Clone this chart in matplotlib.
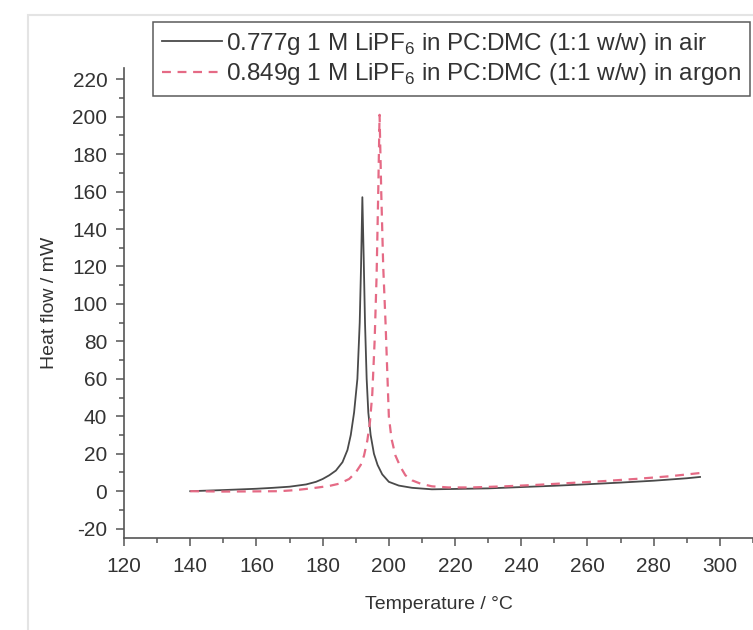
import matplotlib.pyplot as plt
from matplotlib.ticker import MultipleLocator
from matplotlib.patches import Rectangle

# DSC-Kurven (Temperatur in °C, Wärmestrom in mW)
t_air = [140, 150, 160, 165, 170, 175, 178, 180, 182, 184, 186, 187.5, 188.5,
         189.5, 190.5, 191.2, 191.6, 192.0, 192.4, 192.8, 193.3, 193.8, 194.5,
         195.5, 196.6, 198, 200, 203, 207, 213, 220, 230, 240, 250, 260, 270,
         280, 290, 294]
q_air = [0.0, 0.6, 1.3, 1.8, 2.4, 3.6, 5.0, 6.5, 8.5, 11, 15.5, 22, 30,
         42, 60, 90, 120, 157, 125, 90, 60, 42, 30,
         20, 14, 9, 5, 3.0, 1.8, 1.0, 1.2, 1.5, 2.2, 2.9, 3.7, 4.6,
         5.6, 6.9, 7.6]

t_ar = [140, 150, 160, 167, 172, 177, 182, 185, 188, 190, 191.5, 192.5, 193.5,
        194.3, 195, 195.7, 196.3, 196.8, 197.2, 197.7, 198.3, 199, 199.6, 200,
        200.8, 202, 203.5, 205, 207, 209.6, 213, 218, 225, 235, 245, 255, 265,
        275, 285, 294]
q_ar = [0, -0.2, -0.1, 0, 0.6, 1.6, 2.8, 4, 6.5, 10, 14, 19, 27,
        37, 52, 80, 115, 160, 201, 160, 120, 90, 60, 40,
        28, 19, 13, 8.5, 5.8, 4.0, 2.6, 2.0, 2.0, 2.6, 3.4, 4.4, 5.4,
        6.6, 8.0, 9.7]

lbl_air = r"0.777g 1 M LiPF$_6$ in PC:DMC (1:1 w/w) in air"
lbl_ar = r"0.849g 1 M LiPF$_6$ in PC:DMC (1:1 w/w) in argon"

plt.rcParams['font.family'] = ['Liberation Sans', 'DejaVu Sans']
plt.rcParams['mathtext.fontset'] = 'custom'
plt.rcParams['mathtext.rm'] = 'Liberation Sans'
plt.rcParams['axes.unicode_minus'] = False

fig = plt.figure(figsize=(7.53, 6.3), dpi=100)
# leichter Seitenrand wie im Screenshot
fig.patches.append(Rectangle((28 / 753, -0.1), 1.2, 1 - 15 / 630 + 0.1,
                             transform=fig.transFigure, fill=False,
                             edgecolor='#e4e4e4', lw=1.5))

ax = fig.add_axes([124 / 753, 1 - 538 / 630, 1 - 124 / 753, (538 - 68) / 630])

ax.plot(t_air, q_air, color='#4a4a4a', lw=1.3, label=lbl_air)
ax.plot(t_ar, q_ar, color='#e56a85', lw=1.6, ls=(0, (4, 3)), label=lbl_ar)

ax.set_xlim(120, 310)
ax.set_ylim(-25, 226)
ax.xaxis.set_major_locator(MultipleLocator(20))
ax.xaxis.set_minor_locator(MultipleLocator(10))
ax.yaxis.set_major_locator(MultipleLocator(20))
ax.yaxis.set_minor_locator(MultipleLocator(10))

for s in ['top', 'right']:
    ax.spines[s].set_visible(False)
for s in ['left', 'bottom']:
    ax.spines[s].set_color('#555555')
    ax.spines[s].set_linewidth(1.2)

ax.tick_params(which='major', direction='out', length=6, width=1.1,
               color='#555555', labelsize=15, labelcolor='#333333')
ax.tick_params(axis='y', which='major', pad=6)
ax.tick_params(axis='x', which='major', pad=8)
ax.tick_params(which='minor', direction='out', length=3.5, width=1.1,
               color='#555555')

ax.set_xlabel("Temperature / °C", fontsize=14, color='#333333', labelpad=14)
ax.set_ylabel("Heat flow / mW", fontsize=14, color='#333333', labelpad=10)

leg = ax.legend(loc='upper left', bbox_to_anchor=(153 / 753, 1 - 22 / 630),
                bbox_transform=fig.transFigure, borderaxespad=0,
                fontsize=17.5, frameon=True, fancybox=False,
                handlelength=2.5, handletextpad=0.15, borderpad=0.35,
                labelspacing=0.2)
leg.get_frame().set_edgecolor('#333333')
leg.get_frame().set_linewidth(1.1)
for t in leg.get_texts():
    t.set_color('#333333')

fig.savefig("out.png", dpi=100)
